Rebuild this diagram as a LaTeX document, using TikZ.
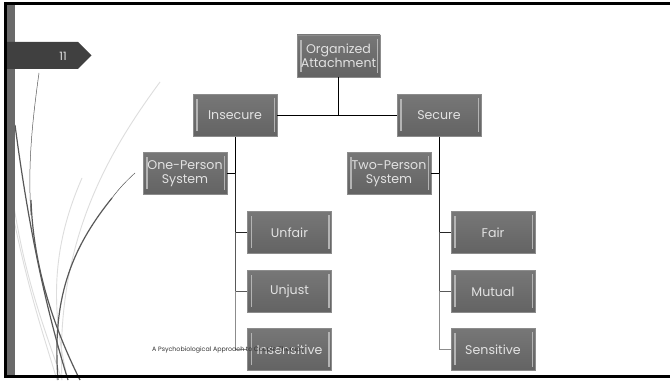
\documentclass[tikz,border=0pt]{standalone}
\usepackage{fontspec}
\setmainfont{Poppins}
\begin{document}
\begin{tikzpicture}[x=1pt,y=-1pt,
  orgbox/.style={rectangle, draw=boxedge, line width=0.8pt,
    top color=boxtop, bottom color=boxbot,
    minimum width=84pt, minimum height=42pt, inner sep=0pt,
    align=center, text=boxtext, font=\fontsize{12.6}{14}\selectfont,
    path picture={
      \draw[boxhi, line width=1.1pt]
        ([xshift=4pt,yshift=-5pt]path picture bounding box.north west) --
        ([xshift=4pt,yshift=5pt]path picture bounding box.south west);
      \draw[boxhi, line width=1.1pt]
        ([xshift=-2.5pt,yshift=-4pt]path picture bounding box.north east) --
        ([xshift=-2.5pt,yshift=4pt]path picture bounding box.south east);
    }},
  link/.style={line width=1pt},
  swoosh/.style={draw=swooshdark, line width=1.2pt},
  faint/.style={draw=swooshlight, line width=0.9pt}
]
\definecolor{boxtop}{HTML}{777777}
\definecolor{boxbot}{HTML}{636363}
\definecolor{boxedge}{HTML}{8C8C8C}
\definecolor{boxhi}{HTML}{B4B4B4}
\definecolor{boxtext}{HTML}{E2E2E2}
\definecolor{tagfill}{HTML}{404040}
\definecolor{sidebar}{HTML}{6A6A6A}
\definecolor{swooshdark}{HTML}{585858}
\definecolor{swooshlight}{HTML}{DDDDDD}

\useasboundingbox (0,0) rectangle (670,382);
\fill[white] (0,0) rectangle (670,382);

% decorative curves at the left
\draw[faint] (160,82) .. controls (110,150) and (55,240) .. (62,380);
\draw[faint] (13,200) .. controls (25,280) and (45,330) .. (62,380);
\draw[faint] (13,215) .. controls (28,290) and (45,340) .. (57,380);
\draw[faint] (82,178) .. controls (55,240) and (48,300) .. (68,380);
\draw[swooshdark, line width=0.5pt] (39,73) .. controls (31,130) and (28,170) .. (31,215);
\draw[swoosh] (15,125) .. controls (25,200) and (40,290) .. (68,380);
\draw[swoosh] (31,200) .. controls (33,260) and (50,320) .. (80,380);
\draw[swooshdark, line width=0.5pt] (135,173) .. controls (125,182) and (118,190) .. (112,198);
\draw[swoosh] (112,198) .. controls (70,250) and (52,300) .. (58,380);

% side bar, frame and slide number tag
\fill[sidebar] (7,4) rectangle (15,376);
\draw[black, line width=3pt] (5.5,3.5) -- (672,3.5);
\draw[black, line width=3pt] (5.5,2) -- (5.5,378);
\draw[black, line width=3pt] (4,376.5) -- (672,376.5);
\fill[tagfill] (7,42) -- (78,42) -- (91.5,55.5) -- (78,69) -- (7,69) -- cycle;
\node[text=boxtext, font=\fontsize{11.5}{12}\selectfont] (num) at (63,56) {11};

% chart boxes
\node[orgbox, minimum width=83pt] (org) at (338.5,56) {Organized\\Attachment};
\node[orgbox] (insec) at (235,115.5) {Insecure};
\node[orgbox] (sec) at (439,115.5) {Secure};
\node[orgbox] (one) at (185,173.5) {One-Person\\System};
\node[orgbox] (two) at (389,173.5) {Two-Person\\System};
\node[orgbox] (unfair) at (289.5,232.5) {Unfair};
\node[orgbox] (unjust) at (289.5,291.5) {Unjust};
\node[orgbox] (insens) at (289.5,349.5) {Insensitive};
\node[orgbox] (fair) at (493,232.5) {Fair};
\node[orgbox] (mutual) at (493,291.5) {Mutual};
\node[orgbox] (sens) at (493,349.5) {Sensitive};

% connectors
\draw[link] (org.south) -- (org.south |- insec.east);
\draw[link] (insec.east) -- (sec.west);
\draw[link, black] (insec.south) -- (insec.south |- one.east) -- (one.east);
\draw[link, black!85] (insec.south |- one.east) -- (insec.south |- unfair.west) -- (unfair.west);
\draw[link, black!65] (insec.south |- unfair.west) -- (insec.south |- unjust.west) -- (unjust.west);
\draw[link, black!45] (insec.south |- unjust.west) -- (insec.south |- insens.west) -- (insens.west);
\draw[link, black] (sec.south) -- (sec.south |- two.east) -- (two.east);
\draw[link, black!85] (sec.south |- two.east) -- (sec.south |- fair.west) -- (fair.west);
\draw[link, black!65] (sec.south |- fair.west) -- (sec.south |- mutual.west) -- (mutual.west);
\draw[link, black!45] (sec.south |- mutual.west) -- (sec.south |- sens.west) -- (sens.west);

% footer
\node[anchor=west, text=black!80, font=\fontsize{6.3}{7}\selectfont, inner sep=0pt] (foot) at (152,350) {A Psychobiological Approach to Couple Therapy};
\end{tikzpicture}
\end{document}
